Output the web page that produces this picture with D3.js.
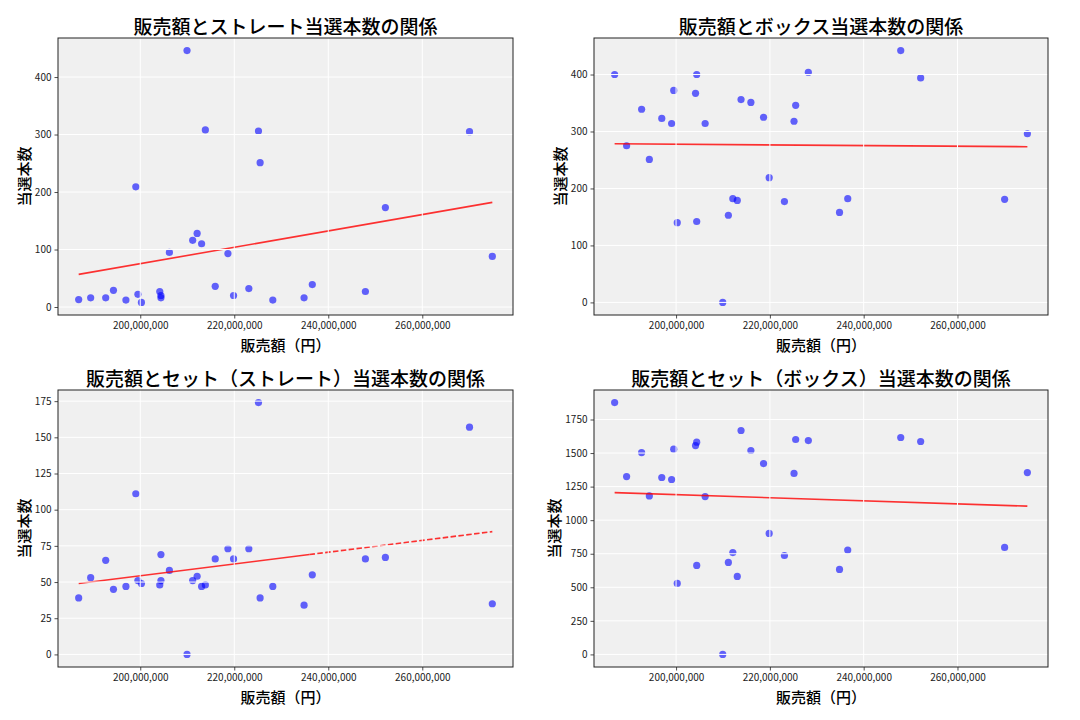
<!DOCTYPE html>
<html><head><meta charset="utf-8">
<script src="https://cdn.jsdelivr.net/npm/d3@7"></script>
<style>
body{margin:0;background:#fff;}
svg{display:block;font-family:"Noto Sans CJK JP","Noto Sans",sans-serif;}
</style></head>
<body>
<svg id="chart" width="1080" height="720"></svg>
<script>
// Sales amount (yen, in millions) shared by all panels
const sales = [186.9,189.45,192.65,194.3,196.95,199.05,199.5,200.25,204.15,204.4,204.4,206.2,209.95,211.15,212.1,213.05,213.85,215.95,218.65,219.85,223.1,225.15,225.5,228.2,234.85,236.6,247.9,252.15,270.05,274.9];
const straight = [13,16,16,29,12,209,22,8,27,20,16,95,446,116,128,110,308,36,93,20,32,306,251,12,16,39,27,173,305,88];
const box = [400,275,339,251,323,314,372,140,367,400,142,314,0,153,182,179,356,351,325,219,177,318,346,404,158,182,442,394,181,296];
const setStraight = [39,53,65,45,47,111,51,49,48,69,51,58,0,51,54,47,48,66,73,66,73,174,39,47,34,55,66,67,157,35];
const setBox = [1876,1325,1504,1181,1318,1303,1529,529,1556,1581,663,1176,0,685,759,581,1668,1519,1422,901,737,1348,1601,1593,633,777,1616,1586,797,1355];

const titles = ["販売額とストレート当選本数の関係","販売額とボックス当選本数の関係","販売額とセット（ストレート）当選本数の関係","販売額とセット（ボックス）当選本数の関係"];
const xTicks = [200e6,220e6,240e6,260e6];
const yTicks1 = [0,100,200,300,400];
const yTicks2 = [0,100,200,300,400];
const yTicks3 = [0,25,50,75,100,125,150,175];
const yTicks4 = [0,250,500,750,1000,1250,1500,1750];
const xLabel = "販売額（円）";
const yLabel = "当選本数";

const panels = [
  {vals: straight, ticks: yTicks1, box:[58,513,38,315], dashFrom: Infinity},
  {vals: box, ticks: yTicks2, box:[594,1048,38,315], dashFrom: Infinity},
  {vals: setStraight, ticks: yTicks3, box:[58,513,390,667], dashFrom: 236e6},
  {vals: setBox, ticks: yTicks4, box:[594,1048,390,667], dashFrom: Infinity}
];

const svg = d3.select("#chart");
const xs = sales.map(v => v*1e6);

function padExt(arr){
  const [a,b] = d3.extent(arr); const p=(b-a)*0.05; return [a-p,b+p];
}

panels.forEach((p,i) => {
  const [x0,x1,y0,y1] = p.box;
  const g = svg.append("g");
  const x = d3.scaleLinear().domain(padExt(xs)).range([x0,x1]);
  const y = d3.scaleLinear().domain(padExt(p.vals)).range([y1,y0]);

  g.append("rect").attr("x",x0).attr("y",y0).attr("width",x1-x0).attr("height",y1-y0).attr("fill","#f0f0f0");

  // points
  g.append("g").selectAll("circle").data(xs.map((v,k)=>[v,p.vals[k]])).join("circle")
    .attr("cx",d=>x(d[0])).attr("cy",d=>y(d[1])).attr("r",3.6)
    .attr("fill","#0000ff").attr("fill-opacity",0.6);

  // trend line (least squares)
  const mx=d3.mean(xs), my=d3.mean(p.vals);
  let sxy=0,sxx=0; xs.forEach((v,k)=>{sxy+=(v-mx)*(p.vals[k]-my); sxx+=(v-mx)*(v-mx);});
  const slope=sxy/sxx, icpt=my-slope*mx;
  const f = v => [x(v), y(slope*v+icpt)];
  const xmin=d3.min(xs), xmax=d3.max(xs);
  const split = Math.min(Math.max(p.dashFrom,xmin),xmax);
  if(split>xmin) g.append("path").attr("d",d3.line()([f(xmin),f(split)]))
    .attr("stroke","#ff0000").attr("stroke-opacity",0.8).attr("stroke-width",1.6).attr("fill","none");
  if(split<xmax) g.append("path").attr("d",d3.line()([f(split),f(xmax)]))
    .attr("stroke","#ff0000").attr("stroke-opacity",0.8).attr("stroke-width",1.6).attr("fill","none")
    .attr("stroke-dasharray","5.5,2.4");

  // grid
  const grid = g.append("g");
  xTicks.forEach(t => grid.append("line").attr("x1",x(t)).attr("x2",x(t)).attr("y1",y0).attr("y2",y1)
    .attr("stroke","#fff").attr("stroke-width",1));
  p.ticks.forEach(t => grid.append("line").attr("x1",x0).attr("x2",x1).attr("y1",y(t)).attr("y2",y(t))
    .attr("stroke","#fff").attr("stroke-width",1));

  // axes
  const xa = g.append("g").attr("transform",`translate(0,${y1})`)
    .call(d3.axisBottom(x).tickValues(xTicks).tickFormat(d3.format(",")).tickSizeOuter(0).tickSize(3.5).tickPadding(3));
  const ya = g.append("g").attr("transform",`translate(${x0},0)`)
    .call(d3.axisLeft(y).tickValues(p.ticks).tickFormat(d3.format("d")).tickSizeOuter(0).tickSize(3.5).tickPadding(3));
  [xa,ya].forEach(a=>{
    a.select(".domain").remove();
    a.selectAll("text").attr("font-size",10).attr("fill","#222").attr("font-family",'"Noto Sans CJK JP",sans-serif');
    a.selectAll("line").attr("stroke","#222").attr("stroke-width",0.8);
  });

  // frame
  g.append("rect").attr("x",x0).attr("y",y0).attr("width",x1-x0).attr("height",y1-y0)
    .attr("fill","none").attr("stroke","#222").attr("stroke-width",1);

  // labels
  g.append("text").attr("x",(x0+x1)/2).attr("y",y0-13).attr("text-anchor","middle")
    .attr("dominant-baseline","central").attr("font-size",19).attr("font-weight",500).attr("fill","#000").text(titles[i]);
  g.append("text").attr("x",(x0+x1)/2).attr("y",y1+29).attr("text-anchor","middle")
    .attr("dominant-baseline","central").attr("font-size",15).attr("font-weight",500).attr("fill","#000").text(xLabel);
  const w = ya.node().getBBox().width;
  const lx = x0 - w - 4 - 7.5;
  g.append("text").attr("transform",`translate(${lx},${(y0+y1)/2}) rotate(-90)`).attr("text-anchor","middle")
    .attr("dominant-baseline","central").attr("font-size",15).attr("font-weight",500).attr("fill","#000").text(yLabel);
});
</script>
</body></html>
